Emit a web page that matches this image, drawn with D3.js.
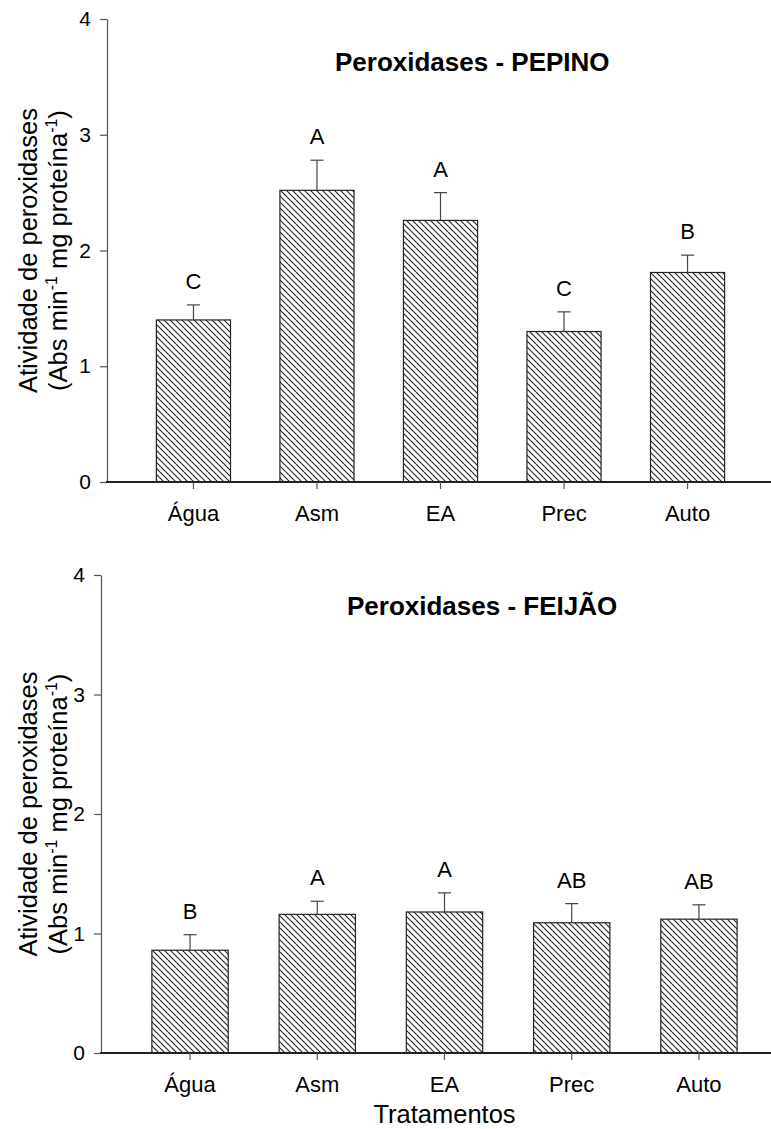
<!DOCTYPE html>
<html>
<head>
<meta charset="utf-8">
<script src="https://cdn.jsdelivr.net/npm/d3@7"></script>
<style>
  html, body { margin: 0; padding: 0; background: #fff; }
  svg { display: block; font-family: "Liberation Sans", Arial, sans-serif; }
</style>
</head>
<body>
<svg id="chart" width="771" height="1129"></svg>
<script>
var categories = ["Água", "Asm", "EA", "Prec", "Auto"];
var yTicks = [0, 1, 2, 3, 4];

// pepino (cucumber)
var pepinoMeans = [1.40, 2.52, 2.26, 1.30, 1.81];
var pepinoErrors = [0.13, 0.26, 0.24, 0.17, 0.15];
var pepinoLetters = ["C", "A", "A", "C", "B"];

// feijao (bean)
var feijaoMeans = [0.86, 1.16, 1.18, 1.09, 1.12];
var feijaoErrors = [0.13, 0.11, 0.16, 0.16, 0.12];
var feijaoLetters = ["B", "A", "A", "AB", "AB"];

var svg = d3.select("#chart");

// diagonal hatch, lines running top-left to bottom-right
var pat = svg.append("defs").append("pattern")
    .attr("id", "hatch")
    .attr("patternUnits", "userSpaceOnUse")
    .attr("width", 6)
    .attr("height", 6);
pat.append("rect").attr("width", 6).attr("height", 6).attr("fill", "#fff");
pat.append("path")
    .attr("d", "M0,0 L6,6 M-1,5 L1,7 M5,-1 L7,1")
    .attr("stroke", "#222")
    .attr("stroke-width", 1.1);

function drawPanel(p){
    var g = svg.append("g");

    var x = d3.scaleBand()
        .domain(categories)
        .range(p.xRange)
        .paddingInner(0.4)
        .paddingOuter(0.4);

    var y = d3.scaleLinear()
        .domain([0, 4])
        .range(p.yRange);

    var rows = categories.map(function(c, i){
        return {cat: c, mean: p.means[i], err: p.errors[i], letter: p.letters[i]};
    });

    // bars
    g.selectAll("rect.bar")
        .data(rows)
        .enter()
        .append("rect")
        .attr("class", "bar")
        .attr("x", function(d){ return x(d.cat); })
        .attr("y", function(d){ return y(d.mean); })
        .attr("width", x.bandwidth())
        .attr("height", function(d){ return y(0) - y(d.mean); })
        .attr("fill", "url(#hatch)")
        .attr("stroke", "#222")
        .attr("stroke-width", 1.2);

    // error bars (upper only)
    var eb = g.selectAll("g.err")
        .data(rows)
        .enter()
        .append("g")
        .attr("class", "err")
        .attr("stroke", "#444")
        .attr("stroke-width", 1.2);
    eb.append("line")
        .attr("x1", function(d){ return x(d.cat) + x.bandwidth() / 2; })
        .attr("x2", function(d){ return x(d.cat) + x.bandwidth() / 2; })
        .attr("y1", function(d){ return y(d.mean); })
        .attr("y2", function(d){ return y(d.mean + d.err); });
    eb.append("line")
        .attr("x1", function(d){ return x(d.cat) + x.bandwidth() / 2 - 6.5; })
        .attr("x2", function(d){ return x(d.cat) + x.bandwidth() / 2 + 6.5; })
        .attr("y1", function(d){ return y(d.mean + d.err); })
        .attr("y2", function(d){ return y(d.mean + d.err); });

    // significance letters
    g.selectAll("text.letter")
        .data(rows)
        .enter()
        .append("text")
        .attr("class", "letter")
        .attr("x", function(d){ return x(d.cat) + x.bandwidth() / 2; })
        .attr("y", function(d){ return y(d.mean + d.err) - 16; })
        .attr("text-anchor", "middle")
        .attr("font-size", 22)
        .attr("fill", "#000")
        .text(function(d){ return d.letter; });

    // y axis
    var yAxis = g.append("g")
        .attr("transform", "translate(" + p.xRange[0] + ",0)")
        .call(d3.axisLeft(y).tickValues(yTicks).tickFormat(d3.format("d"))
            .tickSize(7).tickSizeOuter(0).tickPadding(9));
    yAxis.select(".domain").attr("stroke", "#555").attr("stroke-width", 1.2);
    yAxis.selectAll(".tick line").attr("stroke", "#555").attr("stroke-width", 1.2);
    yAxis.selectAll(".tick text")
        .attr("font-size", 21)
        .attr("font-family", "Liberation Sans, Arial, sans-serif")
        .attr("fill", "#000");

    // x axis
    var xAxis = g.append("g")
        .attr("transform", "translate(0," + y(0) + ")")
        .call(d3.axisBottom(x).tickSize(7).tickSizeOuter(0).tickPadding(16));
    xAxis.select(".domain")
        .attr("d", "M" + (p.xRange[0] - 1) + ",0H" + p.xRange[1])
        .attr("stroke", "#222").attr("stroke-width", 2.2);
    xAxis.selectAll(".tick line").attr("stroke", "#555").attr("stroke-width", 1.2);
    xAxis.selectAll(".tick text")
        .attr("font-size", 22)
        .attr("font-family", "Liberation Sans, Arial, sans-serif")
        .attr("fill", "#000");

    // title
    g.append("text")
        .attr("x", p.titleX)
        .attr("y", p.titleY)
        .attr("font-size", 26)
        .attr("font-weight", "bold")
        .attr("fill", "#000")
        .text(p.title);

    // y axis title, two lines
    var cy = y(2);
    g.append("text")
        .attr("transform", "translate(37," + cy + ") rotate(-90)")
        .attr("text-anchor", "middle")
        .attr("font-size", 25.5)
        .attr("fill", "#000")
        .text("Atividade de peroxidases");
    var t2 = g.append("text")
        .attr("transform", "translate(67," + cy + ") rotate(-90)")
        .attr("text-anchor", "middle")
        .attr("font-size", 25.5)
        .attr("fill", "#000");
    t2.append("tspan").text("(Abs min");
    t2.append("tspan").attr("dy", -10).attr("font-size", 16).text("-1");
    t2.append("tspan").attr("dy", 10).text("  mg proteína");
    t2.append("tspan").attr("dy", -10).attr("font-size", 16).text("-1");
    t2.append("tspan").attr("dy", 10).text(")");

    if(p.xTitle){
        g.append("text")
            .attr("x", x("EA") + x.bandwidth() / 2)
            .attr("y", p.xTitleY)
            .attr("text-anchor", "middle")
            .attr("font-size", 25.5)
            .attr("fill", "#000")
            .text(p.xTitle);
    }
}

drawPanel({
    means: pepinoMeans, errors: pepinoErrors, letters: pepinoLetters,
    xRange: [107, 774], yRange: [482, 19],
    title: "Peroxidases - PEPINO", titleX: 335, titleY: 71
});

drawPanel({
    means: feijaoMeans, errors: feijaoErrors, letters: feijaoLetters,
    xRange: [101, 788], yRange: [1053, 575],
    title: "Peroxidases - FEIJÃO", titleX: 347, titleY: 615,
    xTitle: "Tratamentos", xTitleY: 1123
});
</script>
</body>
</html>
